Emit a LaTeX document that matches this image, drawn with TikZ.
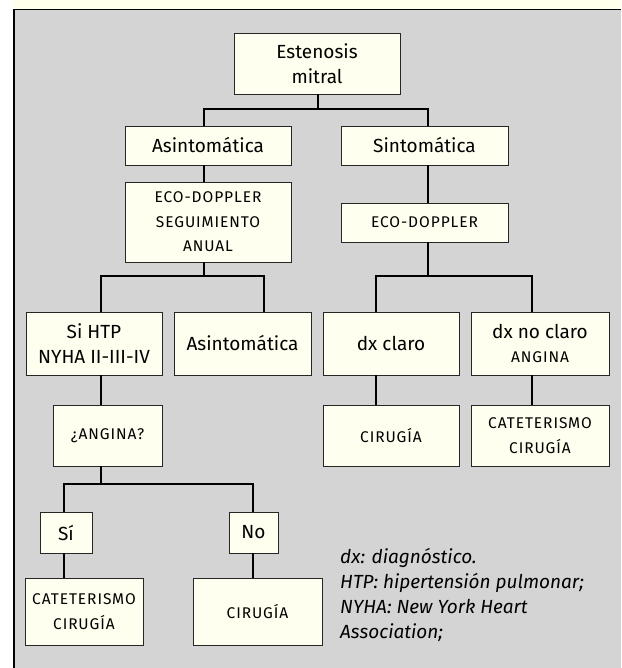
\documentclass[tikz,border=0pt]{standalone}
\usepackage{fontspec}
\setmainfont{Fira Sans}
\newfontfamily\capsfont[LetterSpace=6]{Fira Sans}
\usetikzlibrary{positioning,calc}
\definecolor{panel}{RGB}{212,212,212}
\definecolor{boxfill}{RGB}{255,255,240}
\definecolor{strip}{RGB}{255,255,236}

\begin{document}
\begin{tikzpicture}[x=1pt,y=-1pt,
  box/.style={draw=black!85,fill=boxfill,line width=0.9pt,align=center,inner sep=1pt},
  big/.style={font=\fontsize{19}{25}\selectfont},
  small/.style={font=\capsfont\fontsize{15.5}{24.5}\selectfont},
  link/.style={line width=2.6pt}]
  \useasboundingbox (0,0) rectangle (621,668);
  % Panel
  \fill[strip] (13,0) rectangle (621,9);
  \fill[panel] (13,9) rectangle (621,668);
  \draw[line width=1.5pt] (13.75,668) -- (13.75,9.75) -- (621,9.75);
  % Boxes
  \node[box,big,minimum width=166pt,minimum height=61pt] (estenosis) at (317,63.5) {Estenosis\\mitral};
  \node[box,big,minimum width=166pt,minimum height=39pt] (asin) at (208,145.5) {Asintomática};
  \node[box,big,minimum width=167pt,minimum height=39pt] (sint) at (424.5,145.5) {Sintomática};
  \node[box,small,minimum width=166pt,minimum height=80pt] (ecoseg) at (208,222) {ECO-DOPPLER\\SEGUIMIENTO\\ANUAL};
  \node[box,small,minimum width=167pt,minimum height=39pt] (ecoder) at (424.5,222.5) {ECO-DOPPLER};
  \node[box,big,minimum width=136pt,minimum height=63pt] (htp) at (94,343.5) {Si HTP\\NYHA II-III-IV};
  \node[box,big,minimum width=137pt,minimum height=63pt] (asin2) at (242.5,343.5) {Asintomática};
  \node[box,big,minimum width=136pt,minimum height=63pt] (dxc) at (391,343.5) {dx claro};
  \node[box,big,minimum width=138pt,minimum height=63pt] (dxnc) at (540,343.5) {dx no claro\\[-1pt]{\capsfont\fontsize{15.5}{16}\selectfont ANGINA}};
  \node[box,small,minimum width=109pt,minimum height=61pt] (angina) at (107.5,435.5) {¿ANGINA?};
  \node[box,small,minimum width=136pt,minimum height=61pt] (cir1) at (391,435.5) {CIRUGÍA};
  \node[box,small,minimum width=138pt,minimum height=61pt] (cat1) at (540,435.5) {CATETERISMO\\CIRUGÍA};
  \node[box,big,minimum width=52pt,minimum height=41pt] (si) at (66,532.5) {Sí};
  \node[box,big,minimum width=49pt,minimum height=41pt] (no) at (253.5,532.5) {No};
  \node[box,small,minimum width=118pt,minimum height=67pt] (cat2) at (84,611.5) {CATETERISMO\\CIRUGÍA};
  \node[box,small,minimum width=129pt,minimum height=67pt] (cir2) at (257.5,611.5) {CIRUGÍA};
  % Links
  \coordinate (j1) at (318,109);
  \draw[link] (estenosis.south -| j1) -- (j1);
  \draw[link] ([xshift=-4pt]asin.north) |- ([xshift=3.5pt]sint.north |- j1) -- ([xshift=3.5pt]sint.north);
  \draw[link] ([xshift=-4pt]asin.south) -- ([xshift=-4pt]ecoseg.north);
  \draw[link] ([xshift=3.5pt]sint.south) -- ([xshift=3.5pt]ecoder.north);
  \coordinate (j2) at (204,276);
  \draw[link] (ecoseg.south -| j2) -- (j2);
  \draw[link] ([xshift=7pt]htp.north) |- ([xshift=21.5pt]asin2.north |- j2) -- ([xshift=21.5pt]asin2.north);
  \coordinate (j3) at (428,276);
  \draw[link] (ecoder.south -| j3) -- (j3);
  \draw[link] ([xshift=-15pt]dxc.north) |- ([xshift=-8pt]dxnc.north |- j3) -- ([xshift=-8pt]dxnc.north);
  \draw[link] ([xshift=-15pt]dxc.south) -- ([xshift=-15pt]cir1.north);
  \draw[link] ([xshift=-8pt]dxnc.south) -- ([xshift=-8pt]cat1.north);
  \draw[link] ([xshift=7pt]htp.south) -- ([xshift=-6.5pt]angina.north);
  \coordinate (j4) at (101,484);
  \draw[link] ([xshift=-6.5pt]angina.south) -- (j4);
  \draw[link] ([xshift=-2pt]si.north) |- ([xshift=-0.5pt]no.north |- j4) -- ([xshift=-0.5pt]no.north);
  \draw[link] ([xshift=-2pt]si.south) -- ([xshift=-20pt]cat2.north);
  \draw[link] ([xshift=-0.5pt]no.south) -- ([xshift=-4.5pt]cir2.north);
  % Legend
  \node[font=\fontsize{19}{25}\selectfont\itshape,align=left,anchor=west,inner sep=0pt] (legend) at (340,594.5) {dx: diagnóstico.\\HTP: hipertensión pulmonar;\\NYHA: New York Heart\\Association;};
\end{tikzpicture}
\end{document}
